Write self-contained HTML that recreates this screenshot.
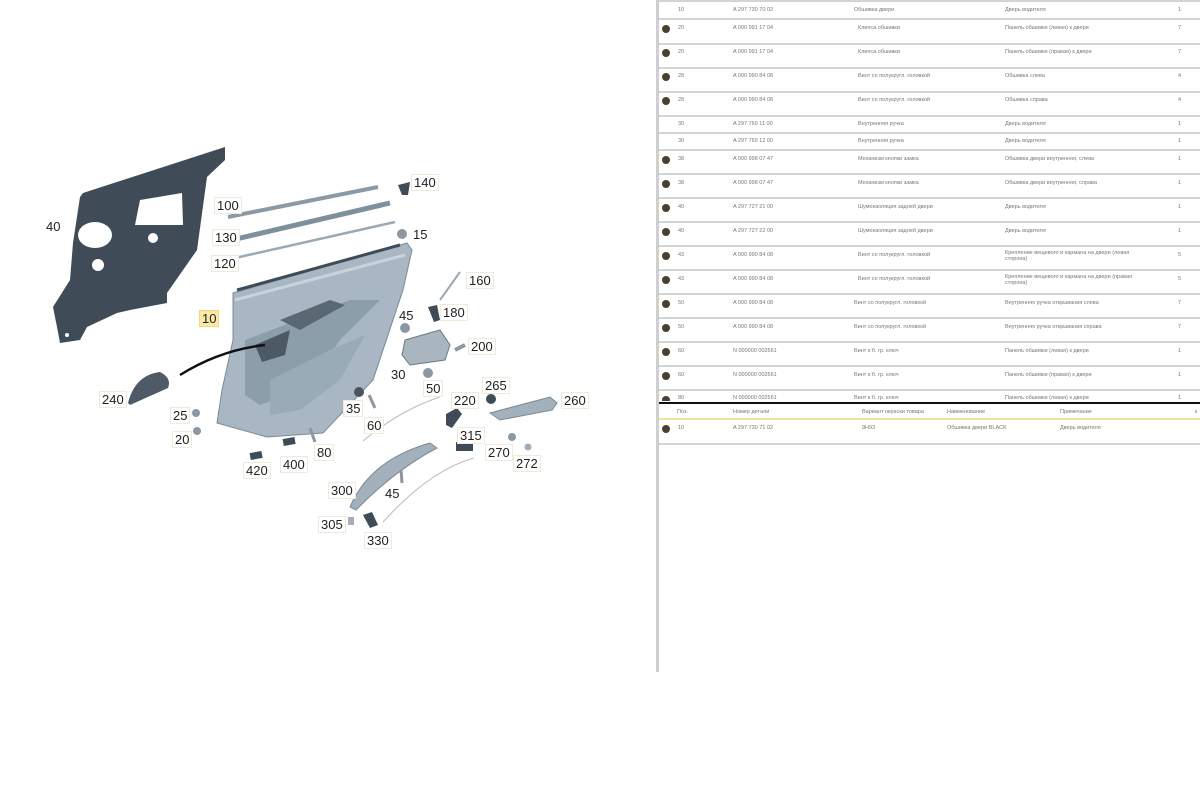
<!DOCTYPE html>
<html><head><meta charset="utf-8"><style>
body{margin:0;width:1200px;height:672px;background:#fff;position:relative;overflow:hidden;font-family:"Liberation Sans","DejaVu Sans",sans-serif}
.t{position:absolute;font-size:5.5px;color:#777;white-space:nowrap;line-height:6px}
.sep{position:absolute;left:659px;width:541px;height:2px;background:#d4d4d4}
.ic{position:absolute;width:8px;height:8px;border-radius:50%;background:#4a3f30;left:662px}
.lb{position:absolute;font-size:13px;color:#222;background:#fff;border:1px solid #f1ead8;padding:0 2px;line-height:15px}
</style></head><body>
<div style="position:absolute;left:656px;top:0;width:3px;height:672px;background:#cfcfcf"></div>
<div style="position:absolute;left:659px;top:0;width:541px;height:2px;background:#d4d4d4"></div>

<svg width="650" height="672" style="position:absolute;left:0;top:0">
<!-- gasket 40 -->
<path d="M83,193 L225,147 L225,160 L207,177 L197,250 L167,293 L167,303 L130,310 L117,313 L87,327 L80,340 L60,343 L57,327 L53,307 L70,280 L73,243 L80,197 Z" fill="#3f4c58"/>
<ellipse cx="95" cy="235" rx="17" ry="13" fill="#fff"/>
<path d="M135,225 L140,200 L182,193 L183,225 Z" fill="#fff"/>
<circle cx="153" cy="238" r="5" fill="#fff"/><circle cx="98" cy="265" r="6" fill="#fff"/>
<circle cx="67" cy="335" r="2" fill="#fff"/>
<!-- strips -->
<path d="M228,217 L378,187" stroke="#8a9aa6" stroke-width="4"/>
<path d="M232,240 L390,203" stroke="#7f909d" stroke-width="5"/>
<path d="M235,258 L395,222" stroke="#9aa9b4" stroke-width="2.5"/>
<!-- door panel 10 -->
<path d="M233,293 L407,243 L412,250 L403,290 L373,380 L323,433 L267,437 L217,423 L222,390 L233,340 Z" fill="#a8b7c3" stroke="#7a8a97" stroke-width="1"/>
<path d="M235,300 L405,255" stroke="#c8d3dc" stroke-width="3"/>
<path d="M245,340 L350,300 L380,300 L340,340 L320,370 L290,395 L260,405 L245,395 Z" fill="#8d9eab"/>
<path d="M255,345 L290,330 L285,355 L262,362 Z" fill="#4c5a66"/>
<path d="M280,320 L330,300 L345,305 L300,330 Z" fill="#5a6874"/>
<path d="M270,380 L330,350 L365,335 L340,380 L300,410 L270,415 Z" fill="#9aabb8"/>
<path d="M180,375 Q220,350 265,345" stroke="#111" stroke-width="2.5" fill="none"/>
<path d="M240,240 L405,240" stroke="none"/>
<path d="M237,290 L400,245" stroke="#3f4c58" stroke-width="3"/>
<!-- 240 -->
<path d="M128,403 Q135,375 160,372 Q172,378 168,388 L130,405 Z" fill="#4e5b66"/>
<!-- small parts -->
<path d="M398,185 L410,182 L408,195 L402,195 Z" fill="#3f4c58"/>
<circle cx="402" cy="234" r="5" fill="#8b98a3"/>
<path d="M440,300 L460,272" stroke="#9aa8b2" stroke-width="2"/>
<path d="M428,307 L437,305 L440,320 L434,322 Z" fill="#3f4c58"/>
<circle cx="405" cy="328" r="5" fill="#8b98a3"/>
<path d="M405,340 L440,330 L450,345 L445,360 L410,365 L402,355 Z" fill="#a9b6c0" stroke="#6a7884"/>
<path d="M455,350 L465,345" stroke="#8b98a3" stroke-width="4"/>
<circle cx="428" cy="373" r="5" fill="#8b98a3"/>
<circle cx="359" cy="392" r="5" fill="#4a5560"/>
<path d="M369,395 L375,408" stroke="#8b98a3" stroke-width="3"/>
<path d="M310,428 L315,442" stroke="#8b98a3" stroke-width="3"/>
<circle cx="196" cy="413" r="4" fill="#8b98a3"/><circle cx="197" cy="431" r="4" fill="#8b98a3"/>
<rect x="250" y="452" width="12" height="7" fill="#3f4c58" transform="rotate(-10 256 455)"/>
<rect x="283" y="438" width="12" height="7" fill="#3f4c58" transform="rotate(-10 289 441)"/>
<path d="M446,414 L457,408 L462,414 L452,428 L446,425 Z" fill="#3f4c58"/>
<rect x="456" y="442" width="17" height="9" fill="#3f4c58"/>
<circle cx="491" cy="399" r="5" fill="#3f4c58"/>
<path d="M490,413 L550,397 L557,403 L552,410 L500,420 Z" fill="#a3b1bd" stroke="#7a8a97"/>
<circle cx="512" cy="437" r="4" fill="#8b98a3"/><circle cx="528" cy="447" r="3.5" fill="#a0adb7"/>
<path d="M350,507 Q370,460 430,443 L437,448 Q395,470 356,510 Z" fill="#a3b1bd" stroke="#7a8a97"/>
<path d="M401,470 L402,483" stroke="#8b98a3" stroke-width="3"/>
<rect x="348" y="517" width="6" height="8" fill="#aab"/>
<path d="M363,515 L372,512 L378,525 L370,528 Z" fill="#3f4c58"/>
<path d="M363,441 Q400,410 440,397" stroke="#bbb" fill="none"/>
<path d="M383,522 Q430,470 474,458" stroke="#bbb" fill="none"/>
</svg>

<div class="lb" style="left:44px;top:219px;border:none">40</div>
<div class="lb" style="left:214px;top:197px">100</div>
<div class="lb" style="left:212px;top:229px">130</div>
<div class="lb" style="left:211px;top:255px">120</div>
<div class="lb" style="left:411px;top:174px">140</div>
<div class="lb" style="left:411px;top:227px;border:none">15</div>
<div class="lb" style="left:466px;top:272px">160</div>
<div class="lb" style="left:199px;top:310px;background:#fbe8a6;border-color:#f4d77a">10</div>
<div class="lb" style="left:440px;top:304px">180</div>
<div class="lb" style="left:397px;top:308px;border:none">45</div>
<div class="lb" style="left:468px;top:338px">200</div>
<div class="lb" style="left:389px;top:367px;border:none">30</div>
<div class="lb" style="left:423px;top:380px">50</div>
<div class="lb" style="left:99px;top:391px">240</div>
<div class="lb" style="left:170px;top:407px">25</div>
<div class="lb" style="left:172px;top:431px">20</div>
<div class="lb" style="left:343px;top:400px">35</div>
<div class="lb" style="left:364px;top:417px">60</div>
<div class="lb" style="left:451px;top:392px">220</div>
<div class="lb" style="left:482px;top:377px">265</div>
<div class="lb" style="left:561px;top:392px">260</div>
<div class="lb" style="left:314px;top:444px">80</div>
<div class="lb" style="left:280px;top:456px">400</div>
<div class="lb" style="left:243px;top:462px">420</div>
<div class="lb" style="left:457px;top:427px">315</div>
<div class="lb" style="left:485px;top:444px">270</div>
<div class="lb" style="left:513px;top:455px">272</div>
<div class="lb" style="left:328px;top:482px">300</div>
<div class="lb" style="left:383px;top:486px;border:none">45</div>
<div class="lb" style="left:318px;top:516px">305</div>
<div class="lb" style="left:364px;top:532px">330</div>

<!-- table rows -->
<div id="tbl"></div>
<div class="t" style="left:678px;top:7px">10</div><div class="t" style="left:733px;top:7px">A 297 730 70 02</div><div class="t" style="left:854px;top:7px">Обшивка двери</div><div class="t" style="left:1005px;top:7px">Дверь водителя</div><div class="t" style="left:1178px;top:7px">1</div>
<div class="sep" style="top:18px"></div>
<div class="ic" style="top:25px"></div><div class="t" style="left:678px;top:25px">20</div><div class="t" style="left:733px;top:25px">A 000 991 17 04</div><div class="t" style="left:858px;top:25px">Клипса обшивки</div><div class="t" style="left:1005px;top:25px">Панель обшивки (левая) к двери</div><div class="t" style="left:1178px;top:25px">7</div>
<div class="sep" style="top:43px"></div>
<div class="ic" style="top:49px"></div><div class="t" style="left:678px;top:49px">20</div><div class="t" style="left:733px;top:49px">A 000 991 17 04</div><div class="t" style="left:858px;top:49px">Клипса обшивки</div><div class="t" style="left:1005px;top:49px">Панель обшивки (правая) к двери</div><div class="t" style="left:1178px;top:49px">7</div>
<div class="sep" style="top:67px"></div>
<div class="ic" style="top:73px"></div><div class="t" style="left:678px;top:73px">28</div><div class="t" style="left:733px;top:73px">A 000 990 84 08</div><div class="t" style="left:858px;top:73px">Винт со полукругл. головкой</div><div class="t" style="left:1005px;top:73px">Обшивка слева</div><div class="t" style="left:1178px;top:73px">4</div>
<div class="sep" style="top:91px"></div>
<div class="ic" style="top:97px"></div><div class="t" style="left:678px;top:97px">28</div><div class="t" style="left:733px;top:97px">A 000 990 84 08</div><div class="t" style="left:858px;top:97px">Винт со полукругл. головкой</div><div class="t" style="left:1005px;top:97px">Обшивка справа</div><div class="t" style="left:1178px;top:97px">4</div>
<div class="sep" style="top:115px"></div>
<div class="t" style="left:678px;top:121px">30</div><div class="t" style="left:733px;top:121px">A 297 760 11 00</div><div class="t" style="left:858px;top:121px">Внутренняя ручка</div><div class="t" style="left:1005px;top:121px">Дверь водителя</div><div class="t" style="left:1178px;top:121px">1</div>
<div class="sep" style="top:132px"></div>
<div class="t" style="left:678px;top:138px">30</div><div class="t" style="left:733px;top:138px">A 297 760 12 00</div><div class="t" style="left:858px;top:138px">Внутренняя ручка</div><div class="t" style="left:1005px;top:138px">Дверь водителя</div><div class="t" style="left:1178px;top:138px">1</div>
<div class="sep" style="top:149px"></div>
<div class="ic" style="top:156px"></div><div class="t" style="left:678px;top:156px">38</div><div class="t" style="left:733px;top:156px">A 000 998 07 47</div><div class="t" style="left:858px;top:156px">Механизм кнопки замка</div><div class="t" style="left:1005px;top:156px">Обшивка двери внутренняя, слева</div><div class="t" style="left:1178px;top:156px">1</div>
<div class="sep" style="top:173px"></div>
<div class="ic" style="top:180px"></div><div class="t" style="left:678px;top:180px">38</div><div class="t" style="left:733px;top:180px">A 000 998 07 47</div><div class="t" style="left:858px;top:180px">Механизм кнопки замка</div><div class="t" style="left:1005px;top:180px">Обшивка двери внутренняя, справа</div><div class="t" style="left:1178px;top:180px">1</div>
<div class="sep" style="top:197px"></div>
<div class="ic" style="top:204px"></div><div class="t" style="left:678px;top:204px">40</div><div class="t" style="left:733px;top:204px">A 297 727 21 00</div><div class="t" style="left:858px;top:204px">Шумоизоляция задней двери</div><div class="t" style="left:1005px;top:204px">Дверь водителя</div><div class="t" style="left:1178px;top:204px">1</div>
<div class="sep" style="top:221px"></div>
<div class="ic" style="top:228px"></div><div class="t" style="left:678px;top:228px">40</div><div class="t" style="left:733px;top:228px">A 297 727 22 00</div><div class="t" style="left:858px;top:228px">Шумоизоляция задней двери</div><div class="t" style="left:1005px;top:228px">Дверь водителя</div><div class="t" style="left:1178px;top:228px">1</div>
<div class="sep" style="top:245px"></div>
<div class="ic" style="top:252px"></div><div class="t" style="left:678px;top:252px">43</div><div class="t" style="left:733px;top:252px">A 000 990 84 08</div><div class="t" style="left:858px;top:252px">Винт со полукругл. головкой</div><div class="t" style="left:1005px;top:250px">Крепление вещевого и кармана на двери (левая<br>сторона)</div><div class="t" style="left:1178px;top:252px">5</div>
<div class="sep" style="top:269px"></div>
<div class="ic" style="top:276px"></div><div class="t" style="left:678px;top:276px">43</div><div class="t" style="left:733px;top:276px">A 000 990 84 08</div><div class="t" style="left:858px;top:276px">Винт со полукругл. головкой</div><div class="t" style="left:1005px;top:274px">Крепление вещевого и кармана на двери (правая<br>сторона)</div><div class="t" style="left:1178px;top:276px">5</div>
<div class="sep" style="top:293px"></div>
<div class="ic" style="top:300px"></div><div class="t" style="left:678px;top:300px">50</div><div class="t" style="left:733px;top:300px">A 000 990 84 08</div><div class="t" style="left:854px;top:300px">Винт со полукругл. головкой</div><div class="t" style="left:1005px;top:300px">Внутренняя ручка открывания слева</div><div class="t" style="left:1178px;top:300px">7</div>
<div class="sep" style="top:317px"></div>
<div class="ic" style="top:324px"></div><div class="t" style="left:678px;top:324px">50</div><div class="t" style="left:733px;top:324px">A 000 990 84 08</div><div class="t" style="left:854px;top:324px">Винт со полукругл. головкой</div><div class="t" style="left:1005px;top:324px">Внутренняя ручка открывания справа</div><div class="t" style="left:1178px;top:324px">7</div>
<div class="sep" style="top:341px"></div>
<div class="ic" style="top:348px"></div><div class="t" style="left:678px;top:348px">60</div><div class="t" style="left:733px;top:348px">N 000000 002561</div><div class="t" style="left:854px;top:348px">Винт к б. гр. ключ</div><div class="t" style="left:1005px;top:348px">Панель обшивки (левая) к двери</div><div class="t" style="left:1178px;top:348px">1</div>
<div class="sep" style="top:365px"></div>
<div class="ic" style="top:372px"></div><div class="t" style="left:678px;top:372px">60</div><div class="t" style="left:733px;top:372px">N 000000 002561</div><div class="t" style="left:854px;top:372px">Винт к б. гр. ключ</div><div class="t" style="left:1005px;top:372px">Панель обшивки (правая) к двери</div><div class="t" style="left:1178px;top:372px">1</div>
<div class="sep" style="top:389px"></div>
<div class="ic" style="top:396px"></div><div class="t" style="left:678px;top:395px">80</div><div class="t" style="left:733px;top:395px">N 000000 002561</div><div class="t" style="left:854px;top:395px">Винт к б. гр. ключ</div><div class="t" style="left:1005px;top:395px">Панель обшивки (левая) к двери</div><div class="t" style="left:1178px;top:395px">1</div>
<div style="position:absolute;left:659px;top:401px;width:541px;height:406px;background:#fff"></div>
<div style="position:absolute;left:659px;top:402px;width:541px;height:2px;background:#111"></div>
<div class="t" style="left:677px;top:409px">Поз.</div><div class="t" style="left:733px;top:409px">Номер детали</div><div class="t" style="left:862px;top:409px">Вариант окраски товара</div><div class="t" style="left:947px;top:409px">Наименование</div><div class="t" style="left:1060px;top:409px">Примечание</div><div class="t" style="left:1195px;top:409px">к</div>
<div style="position:absolute;left:659px;top:418px;width:541px;height:2px;background:#f0e3a0"></div>
<div class="ic" style="top:425px"></div><div class="t" style="left:678px;top:425px">10</div><div class="t" style="left:733px;top:425px">A 297 730 71 02</div><div class="t" style="left:862px;top:425px">9H93</div><div class="t" style="left:947px;top:425px">Обшивка двери BLACK</div><div class="t" style="left:1060px;top:425px">Дверь водителя</div>
<div class="sep" style="top:443px"></div>
</body></html>
